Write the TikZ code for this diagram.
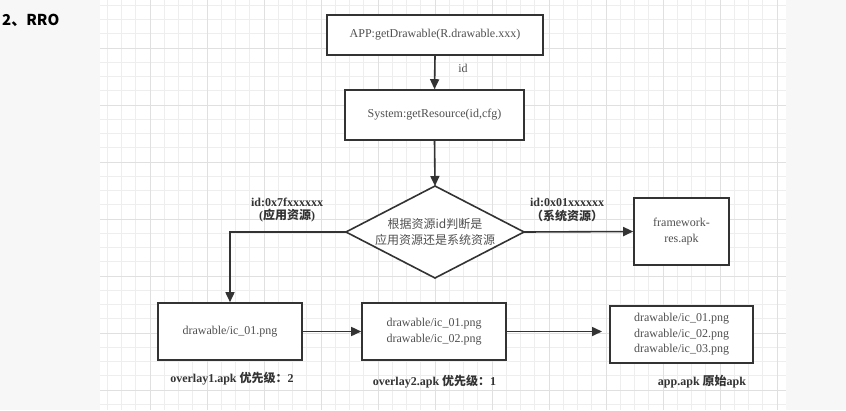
\documentclass[tikz,border=0pt]{standalone}
\usepackage{fontspec}
\setmainfont{Liberation Serif}
\newfontfamily\cjk{Noto Sans CJK SC}
\usetikzlibrary{arrows.meta}
\definecolor{txt}{HTML}{505050}
\definecolor{lbl}{HTML}{333333}
\definecolor{edge}{HTML}{333333}
\definecolor{minorg}{HTML}{EEEEEE}
\definecolor{majorg}{HTML}{E0E0E0}
\definecolor{side}{HTML}{F7F7F7}
\tikzset{
  box/.style={draw=edge, line width=1.6pt, fill=white, text=txt, inner sep=0pt, align=center, font=\fontsize{12}{15.5}\selectfont},
  arr/.style={draw=edge, line width=1.6pt, -{Triangle[length=10pt,width=9pt]}},
  lab/.style={text=lbl, inner sep=0pt, font=\fontsize{12}{14}\selectfont\bfseries, align=center},
  plain/.style={text=txt, inner sep=0pt, font=\fontsize{12}{14}\selectfont},
}
\begin{document}
\begin{tikzpicture}[x=1pt,y=-1pt]
\useasboundingbox (0,0) rectangle (846,410);
\fill[side] (0,0) rectangle (846,410);
\fill[white] (100,0) rectangle (786,410);
% grid
\foreach \i in {0,...,47} \draw[minorg, line width=0.8pt] ({107.25+14.25*\i},0) -- ({107.25+14.25*\i},410);
\foreach \j in {0,...,28} \draw[minorg, line width=0.8pt] (100,{5.25+14.25*\j}) -- (786,{5.25+14.25*\j});
\foreach \i in {3,7,...,47} \draw[majorg, line width=1pt] ({107.25+14.25*\i},0) -- ({107.25+14.25*\i},410);
\foreach \j in {3,7,...,27} \draw[majorg, line width=1pt] (100,{5.25+14.25*\j}) -- (786,{5.25+14.25*\j});
\fill[side] (786,0) rectangle (846,410);

% title
\node[anchor=west, inner sep=0pt, font=\cjk\bfseries\fontsize{15}{17}\selectfont, text=black] (title) at (2,20) {2、RRO};

% boxes
\node[box, minimum width=216pt, minimum height=40pt] (app) at (435,35) {APP:getDrawable(R.drawable.xxx)};
\node[box, minimum width=179pt, minimum height=50pt] (sys) at (434.5,115) {System:getResource(id,cfg)};
\node[box, minimum width=95pt, minimum height=67pt] (fw) at (681.5,231.5) {framework-\\res.apk};
\node[box, minimum width=144pt, minimum height=57pt] (b1) at (230,331.5) {drawable/ic\_01.png};
\node[box, minimum width=144pt, minimum height=57pt] (b2) at (434,331.5) {drawable/ic\_01.png\\drawable/ic\_02.png};
\node[box, minimum width=143pt, minimum height=57pt] (b3) at (681.5,334.5) {drawable/ic\_01.png\\drawable/ic\_02.png\\drawable/ic\_03.png};

% diamond
\coordinate (dt) at (435,186);
\coordinate (dl) at (346,232);
\coordinate (dr) at (524,232);
\coordinate (db) at (435,278);
\draw[edge, line width=1.6pt, fill=white, line join=miter] (dt) -- (dr) -- (db) -- (dl) -- cycle;
\node[text=txt, inner sep=0pt, align=center, font=\cjk\fontsize{12}{16}\selectfont] (dtext) at (435,232) {根据资源id判断是\\应用资源还是系统资源};

% connectors
\draw[arr] (app.south) -- (sys.north);
\node[plain] (idlab) at (463,68) {id};
\draw[arr] (sys.south) -- (dt);
\draw[arr] (dl) -| (b1.north);
\draw[arr] (dr) -- (fw.west);
\draw[arr] (b1.east) -- (b2.west);
\coordinate (b3in) at (602,331.5);
\draw[arr] (b2.east) -- (b3in);

% labels
\node[lab] (l1) at (287,202) {id:0x7fxxxxxx};
\node[lab] (l1b) at (287,216) {({\cjk\bfseries 应用资源})};
\node[lab] (l2) at (567,202) {id:0x01xxxxxx};
\node[lab] (l2b) at (567,216) {{\cjk\bfseries （系统资源）}};
\node[lab] (o1) at (232,379) {overlay1.apk {\cjk\bfseries 优先级：}2};
\node[lab] (o2) at (434.5,382) {overlay2.apk {\cjk\bfseries 优先级：}1};
\node[lab] (o3) at (702,382) {app.apk {\cjk\bfseries 原始}apk};
\end{tikzpicture}
\end{document}
